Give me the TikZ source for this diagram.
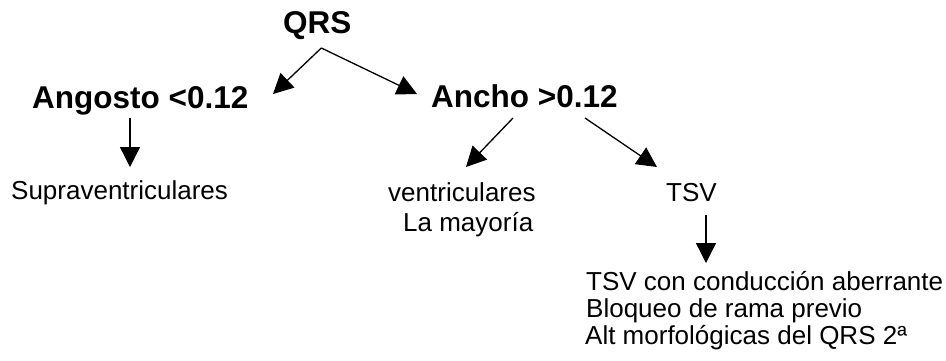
\documentclass[tikz,border=0pt]{standalone}
\usepackage{fontspec}
\setmainfont{Liberation Sans}
\usetikzlibrary{arrows.meta}

\tikzset{
  x=1pt, y=1pt,
  head/.style={font=\fontsize{31.5}{36}\selectfont\bfseries, inner sep=0pt, anchor=base west},
  leaf/.style={font=\fontsize{26}{30}\selectfont, inner sep=0pt, anchor=base west},
  link/.style={line width=1.3pt, -{Triangle[length=20pt,width=20pt]}},
}

\begin{document}
\begin{tikzpicture}
  \useasboundingbox (0,0) rectangle (946,-360);

  % headings
  \node[head] (qrs)     at (283,-33)  {QRS};
  \node[head] (angosto) at (32,-108)  {Angosto <0.12};
  \node[head] (ancho)   at (431,-107) {Ancho >0.12};

  % leaves
  \node[leaf] (supra)   at (11,-199)  {Supraventriculares};
  \node[leaf] (vent)    at (388,-201) {ventriculares};
  \node[leaf] (mayoria) at (403,-231) {La mayoría};
  \node[leaf] (tsv)     at (666,-201) {TSV};
  \node[leaf] (tsvA)    at (586,-290) {TSV con conducción aberrante};
  \node[leaf] (tsvB)    at (586,-317) {Bloqueo de rama previo};
  \node[leaf] (tsvC)    at (585,-344) {Alt morfológicas del QRS 2ª};

  % connectors
  \draw[link] ([shift={(4,-15)}]qrs.base) -- ([shift={(241,14)}]angosto.base west);
  \draw[link] ([shift={(4,-15)}]qrs.base) -- ([shift={(-14,13)}]ancho.base west);
  \draw[link] ([shift={(98,-10)}]angosto.base west) -- ([shift={(119,32)}]supra.base west);
  \draw[link] ([shift={(82,-11)}]ancho.base west) -- ([shift={(78,34)}]vent.base west);
  \draw[link] ([shift={(154,-11)}]ancho.base west) -- ([shift={(-9,34)}]tsv.base west);
  \draw[link] ([shift={(40,-14)}]tsv.base west) -- ([shift={(120,27)}]tsvA.base west);
\end{tikzpicture}
\end{document}
